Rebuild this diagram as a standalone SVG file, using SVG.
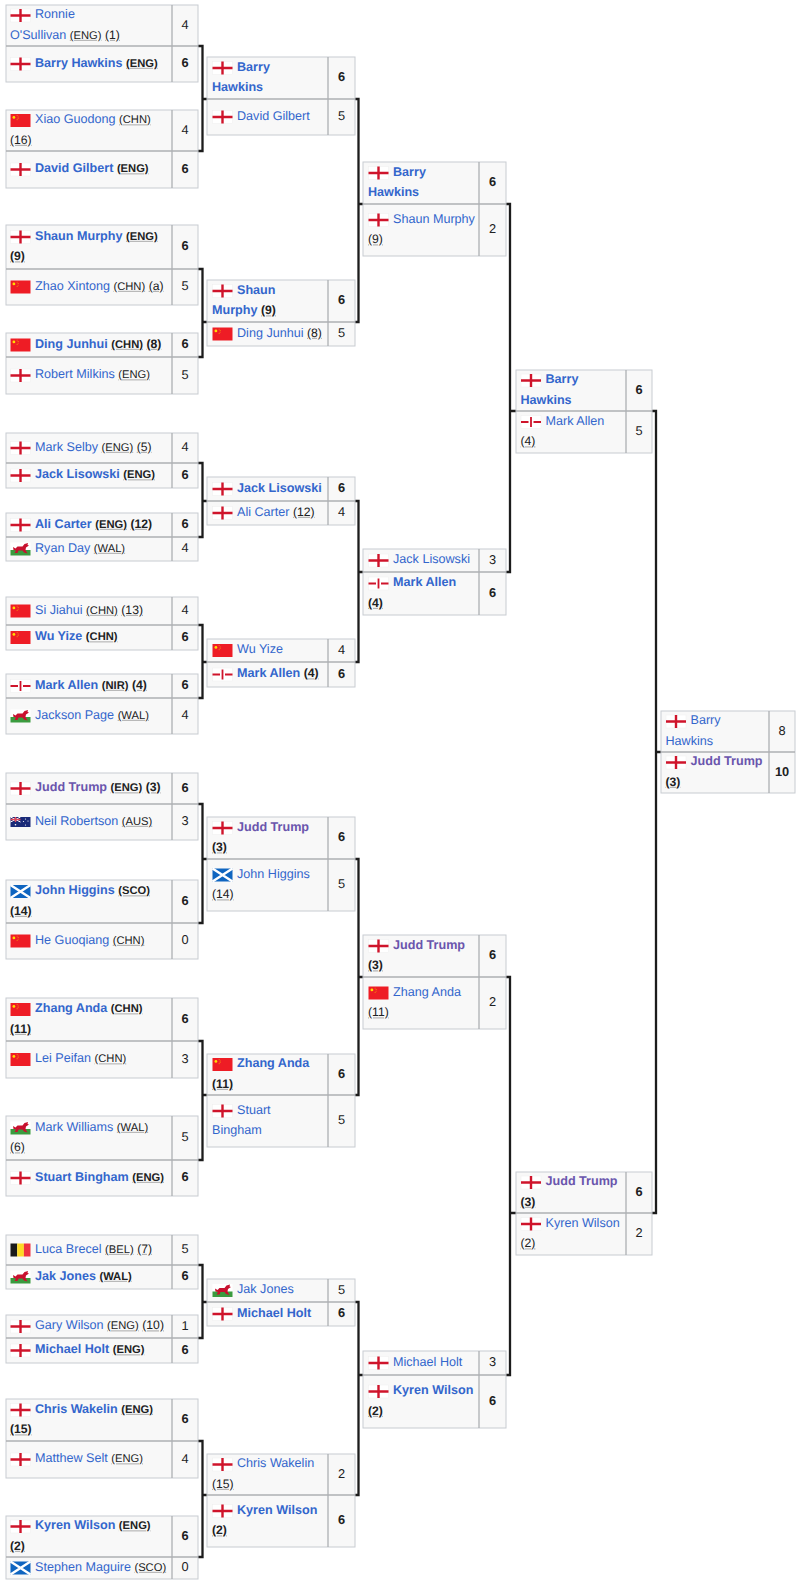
<svg xmlns="http://www.w3.org/2000/svg" width="800" height="1582" viewBox="0 0 800 1582">
<style>
text{font-family:"Liberation Sans",Arial,sans-serif;font-size:12.6px;fill:#202122;text-rendering:geometricPrecision;transform:translateY(-.7px)}
.b{fill:#f8f8f8;stroke:#c8ccd1;stroke-width:1}
.d{stroke:#adb0b3;stroke-width:1.3;fill:none}
.l{fill:#3366cc}
.p{fill:#6a55ad}
.w{font-weight:700}
.a,.s{fill:#b4b4b4;text-decoration:underline dotted}
.a{font-size:11.2px}
.s{font-size:12.2px}
.a>tspan,.s>tspan{fill:#202122}
.n{text-anchor:middle;font-size:12.8px}
.c{stroke:#1c1c1c;stroke-width:2.3;fill:none}
</style>
<defs>
<g id="eng"><rect width="20" height="13" fill="#fff" stroke="#eee" stroke-width=".5"/><path d="M0 6.500H20M10 0V13" stroke="#cf142b" stroke-width="2.400"/></g>
<g id="nir"><rect width="20" height="13" fill="#fff" stroke="#eee" stroke-width=".5"/><path d="M0 6.500H7.500M12.500 6.500H20" stroke="#cf142b" stroke-width="2"/><path d="M10 1.500V11.500" stroke="#cf142b" stroke-width="1.800"/></g>
<g id="chn"><rect width="20" height="13" fill="#ee1c25"/><circle cx="3.400" cy="3.400" r="1.400" fill="#ffde00"/><circle cx="6.600" cy="1.600" r=".45" fill="#ffde00"/><circle cx="7.600" cy="3" r=".45" fill="#ffde00"/><circle cx="7.600" cy="4.600" r=".45" fill="#ffde00"/><circle cx="6.600" cy="5.800" r=".45" fill="#ffde00"/></g>
<g id="wal"><rect width="20" height="7.500" fill="#fff"/><rect y="7.500" width="20" height="5.500" fill="#3a9b3f"/><path d="M2.500 4.500L5 6L7 4L12 4L14 1.500L17.500 .5L17 2.500L18.500 3L15.500 5L15 7.500L17 11L13.500 10L12 8L8 8L7 10.500L4 10.500L5.500 8L3 7.500Z" fill="#c8102e"/></g>
<g id="sco"><rect width="20" height="13" fill="#0f65c0"/><path d="M0 0L20 13M20 0L0 13" stroke="#fff" stroke-width="2.400"/></g>
<g id="bel"><rect width="6.700" height="13" fill="#1a1a1a"/><rect x="6.700" width="6.700" height="13" fill="#fdda24"/><rect x="13.400" width="6.600" height="13" fill="#ef3340"/></g>
<g id="aus"><rect width="20" height="10" fill="#1a2a78"/><path d="M0 0L10 5M10 0L0 5" stroke="#fff" stroke-width="1"/><path d="M5 0V5M0 2.500H10" stroke="#e0485a" stroke-width="1.400"/><circle cx="5" cy="7.800" r=".8" fill="#fff"/><circle cx="15" cy="2" r=".6" fill="#fff"/><circle cx="17.500" cy="4" r=".6" fill="#fff"/><circle cx="13" cy="4.500" r=".6" fill="#fff"/><circle cx="15" cy="8" r=".6" fill="#fff"/></g>
</defs>

<g id="connectors">
<path class="c" d="M198 46H202.500V151H198M202.500 99H207"/>
<path class="c" d="M198 269H202.500V357H198M202.500 322H207"/>
<path class="c" d="M198 463H202.500V537H198M202.500 501H207"/>
<path class="c" d="M198 625H202.500V698H198M202.500 662H207"/>
<path class="c" d="M198 804H202.500V923H198M202.500 859H207"/>
<path class="c" d="M198 1041H202.500V1160H198M202.500 1095H207"/>
<path class="c" d="M198 1265H202.500V1338H198M202.500 1302H207"/>
<path class="c" d="M198 1441H202.500V1557H198M202.500 1495H207"/>
<path class="c" d="M355 99H358.500V322H355M358.500 204H363"/>
<path class="c" d="M355 501H358.500V662H355M358.500 572H363"/>
<path class="c" d="M355 859H358.500V1095H355M358.500 977H363"/>
<path class="c" d="M355 1302H358.500V1495H355M358.500 1375H363"/>
<path class="c" d="M506 204H510V572H506M510 411H516"/>
<path class="c" d="M506 977H510V1375H506M510 1213H516"/>
<path class="c" d="M652 411H656V1213H652M656 752H661"/>
</g>

<g id="r1-1"><rect class="b" x="6" y="5" width="192" height="77"/><path class="d" d="M6 46H198M172 5V82"/>
<use href="#eng" x="10.500" y="9"/><text x="35" y="19"><tspan class="l">Ronnie</tspan></text><text x="10" y="39.500"><tspan class="l">O'Sullivan</tspan> <tspan class="a"><tspan>(ENG)</tspan></tspan> <tspan class="s"><tspan>(1)</tspan></tspan></text><text class="n" x="185" y="29.500">4</text>
<use href="#eng" x="10.500" y="57.500"/><text class="w" x="35" y="67.500"><tspan class="l">Barry Hawkins</tspan> <tspan class="a"><tspan>(ENG)</tspan></tspan></text><text class="n w" x="185" y="68">6</text></g>

<g id="r1-2"><rect class="b" x="6" y="110" width="192" height="78"/><path class="d" d="M6 151H198M172 110V188"/>
<use href="#chn" x="10.500" y="114"/><text x="35" y="124"><tspan class="l">Xiao Guodong</tspan> <tspan class="a"><tspan>(CHN)</tspan></tspan></text><text x="10" y="144.500"><tspan class="s"><tspan>(16)</tspan></tspan></text><text class="n" x="185" y="134.500">4</text>
<use href="#eng" x="10.500" y="163"/><text class="w" x="35" y="173"><tspan class="l">David Gilbert</tspan> <tspan class="a"><tspan>(ENG)</tspan></tspan></text><text class="n w" x="185" y="173.500">6</text></g>

<g id="r1-3"><rect class="b" x="6" y="225" width="192" height="80"/><path class="d" d="M6 269H198M172 225V305"/>
<use href="#eng" x="10.500" y="230.500"/><text class="w" x="35" y="240.500"><tspan class="l">Shaun Murphy</tspan> <tspan class="a"><tspan>(ENG)</tspan></tspan></text><text class="w" x="10" y="261"><tspan class="s"><tspan>(9)</tspan></tspan></text><text class="n w" x="185" y="251">6</text>
<use href="#chn" x="10.500" y="280.500"/><text x="35" y="290.500"><tspan class="l">Zhao Xintong</tspan> <tspan class="a"><tspan>(CHN)</tspan></tspan> <tspan class="s"><tspan>(a)</tspan></tspan></text><text class="n" x="185" y="291">5</text></g>

<g id="r1-4"><rect class="b" x="6" y="333" width="192" height="61"/><path class="d" d="M6 357H198M172 333V394"/>
<use href="#chn" x="10.500" y="338.500"/><text class="w" x="35" y="348.500"><tspan class="l">Ding Junhui</tspan> <tspan class="a"><tspan>(CHN)</tspan></tspan> <tspan class="s"><tspan>(8)</tspan></tspan></text><text class="n w" x="185" y="349">6</text>
<use href="#eng" x="10.500" y="369"/><text x="35" y="379"><tspan class="l">Robert Milkins</tspan> <tspan class="a"><tspan>(ENG)</tspan></tspan></text><text class="n" x="185" y="379.500">5</text></g>

<g id="r1-5"><rect class="b" x="6" y="433" width="192" height="55"/><path class="d" d="M6 463H198M172 433V488"/>
<use href="#eng" x="10.500" y="441.500"/><text x="35" y="451.500"><tspan class="l">Mark Selby</tspan> <tspan class="a"><tspan>(ENG)</tspan></tspan> <tspan class="s"><tspan>(5)</tspan></tspan></text><text class="n" x="185" y="452">4</text>
<use href="#eng" x="10.500" y="469"/><text class="w" x="35" y="479"><tspan class="l">Jack Lisowski</tspan> <tspan class="a"><tspan>(ENG)</tspan></tspan></text><text class="n w" x="185" y="479.500">6</text></g>

<g id="r1-6"><rect class="b" x="6" y="513" width="192" height="48"/><path class="d" d="M6 537H198M172 513V561"/>
<use href="#eng" x="10.500" y="518.500"/><text class="w" x="35" y="528.500"><tspan class="l">Ali Carter</tspan> <tspan class="a"><tspan>(ENG)</tspan></tspan> <tspan class="s"><tspan>(12)</tspan></tspan></text><text class="n w" x="185" y="529">6</text>
<use href="#wal" x="10.500" y="542.500"/><text x="35" y="552.500"><tspan class="l">Ryan Day</tspan> <tspan class="a"><tspan>(WAL)</tspan></tspan></text><text class="n" x="185" y="553">4</text></g>

<g id="r1-7"><rect class="b" x="6" y="597" width="192" height="53"/><path class="d" d="M6 625H198M172 597V650"/>
<use href="#chn" x="10.500" y="604.500"/><text x="35" y="614.500"><tspan class="l">Si Jiahui</tspan> <tspan class="a"><tspan>(CHN)</tspan></tspan> <tspan class="s"><tspan>(13)</tspan></tspan></text><text class="n" x="185" y="615">4</text>
<use href="#chn" x="10.500" y="631"/><text class="w" x="35" y="641"><tspan class="l">Wu Yize</tspan> <tspan class="a"><tspan>(CHN)</tspan></tspan></text><text class="n w" x="185" y="641.500">6</text></g>

<g id="r1-8"><rect class="b" x="6" y="674" width="192" height="60"/><path class="d" d="M6 698H198M172 674V734"/>
<use href="#nir" x="10.500" y="679.500"/><text class="w" x="35" y="689.500"><tspan class="l">Mark Allen</tspan> <tspan class="a"><tspan>(NIR)</tspan></tspan> <tspan class="s"><tspan>(4)</tspan></tspan></text><text class="n w" x="185" y="690">6</text>
<use href="#wal" x="10.500" y="709.500"/><text x="35" y="719.500"><tspan class="l">Jackson Page</tspan> <tspan class="a"><tspan>(WAL)</tspan></tspan></text><text class="n" x="185" y="720">4</text></g>

<g id="r1-9"><rect class="b" x="6" y="773" width="192" height="67"/><path class="d" d="M6 804H198M172 773V840"/>
<use href="#eng" x="10.500" y="782"/><text class="w" x="35" y="792"><tspan class="p">Judd Trump</tspan> <tspan class="a"><tspan>(ENG)</tspan></tspan> <tspan class="s"><tspan>(3)</tspan></tspan></text><text class="n w" x="185" y="792.500">6</text>
<use href="#aus" x="10.500" y="817"/><text x="35" y="825.500"><tspan class="l">Neil Robertson</tspan> <tspan class="a"><tspan>(AUS)</tspan></tspan></text><text class="n" x="185" y="826">3</text></g>

<g id="r1-10"><rect class="b" x="6" y="880" width="192" height="79"/><path class="d" d="M6 923H198M172 880V959"/>
<use href="#sco" x="10.500" y="885"/><text class="w" x="35" y="895"><tspan class="l">John Higgins</tspan> <tspan class="a"><tspan>(SCO)</tspan></tspan></text><text class="w" x="10" y="915.500"><tspan class="s"><tspan>(14)</tspan></tspan></text><text class="n w" x="185" y="905.500">6</text>
<use href="#chn" x="10.500" y="934.500"/><text x="35" y="944.500"><tspan class="l">He Guoqiang</tspan> <tspan class="a"><tspan>(CHN)</tspan></tspan></text><text class="n" x="185" y="945">0</text></g>

<g id="r1-11"><rect class="b" x="6" y="998" width="192" height="80"/><path class="d" d="M6 1041H198M172 998V1078"/>
<use href="#chn" x="10.500" y="1003"/><text class="w" x="35" y="1013"><tspan class="l">Zhang Anda</tspan> <tspan class="a"><tspan>(CHN)</tspan></tspan></text><text class="w" x="10" y="1033.500"><tspan class="s"><tspan>(11)</tspan></tspan></text><text class="n w" x="185" y="1023.500">6</text>
<use href="#chn" x="10.500" y="1053"/><text x="35" y="1063"><tspan class="l">Lei Peifan</tspan> <tspan class="a"><tspan>(CHN)</tspan></tspan></text><text class="n" x="185" y="1063.500">3</text></g>

<g id="r1-12"><rect class="b" x="6" y="1116" width="192" height="80"/><path class="d" d="M6 1160H198M172 1116V1196"/>
<use href="#wal" x="10.500" y="1121.500"/><text x="35" y="1131.500"><tspan class="l">Mark Williams</tspan> <tspan class="a"><tspan>(WAL)</tspan></tspan></text><text x="10" y="1152"><tspan class="s"><tspan>(6)</tspan></tspan></text><text class="n" x="185" y="1142">5</text>
<use href="#eng" x="10.500" y="1171.500"/><text class="w" x="35" y="1181.500"><tspan class="l">Stuart Bingham</tspan> <tspan class="a"><tspan>(ENG)</tspan></tspan></text><text class="n w" x="185" y="1182">6</text></g>

<g id="r1-13"><rect class="b" x="6" y="1235" width="192" height="54"/><path class="d" d="M6 1265H198M172 1235V1289"/>
<use href="#bel" x="10.500" y="1243.500"/><text x="35" y="1253.500"><tspan class="l">Luca Brecel</tspan> <tspan class="a"><tspan>(BEL)</tspan></tspan> <tspan class="s"><tspan>(7)</tspan></tspan></text><text class="n" x="185" y="1254">5</text>
<use href="#wal" x="10.500" y="1270.500"/><text class="w" x="35" y="1280.500"><tspan class="l">Jak Jones</tspan> <tspan class="a"><tspan>(WAL)</tspan></tspan></text><text class="n w" x="185" y="1281">6</text></g>

<g id="r1-14"><rect class="b" x="6" y="1315" width="192" height="48"/><path class="d" d="M6 1338H198M172 1315V1363"/>
<use href="#eng" x="10.500" y="1320"/><text x="35" y="1330"><tspan class="l">Gary Wilson</tspan> <tspan class="a"><tspan>(ENG)</tspan></tspan> <tspan class="s"><tspan>(10)</tspan></tspan></text><text class="n" x="185" y="1330.500">1</text>
<use href="#eng" x="10.500" y="1344"/><text class="w" x="35" y="1354"><tspan class="l">Michael Holt</tspan> <tspan class="a"><tspan>(ENG)</tspan></tspan></text><text class="n w" x="185" y="1354.500">6</text></g>

<g id="r1-15"><rect class="b" x="6" y="1399" width="192" height="79"/><path class="d" d="M6 1441H198M172 1399V1478"/>
<use href="#eng" x="10.500" y="1403.500"/><text class="w" x="35" y="1413.500"><tspan class="l">Chris Wakelin</tspan> <tspan class="a"><tspan>(ENG)</tspan></tspan></text><text class="w" x="10" y="1434"><tspan class="s"><tspan>(15)</tspan></tspan></text><text class="n w" x="185" y="1424">6</text>
<use href="#eng" x="10.500" y="1453"/><text x="35" y="1463"><tspan class="l">Matthew Selt</tspan> <tspan class="a"><tspan>(ENG)</tspan></tspan></text><text class="n" x="185" y="1463.500">4</text></g>

<g id="r1-16"><rect class="b" x="6" y="1516" width="192" height="63"/><path class="d" d="M6 1557H198M172 1516V1579"/>
<use href="#eng" x="10.500" y="1520"/><text class="w" x="35" y="1530"><tspan class="l">Kyren Wilson</tspan> <tspan class="a"><tspan>(ENG)</tspan></tspan></text><text class="w" x="10" y="1550.500"><tspan class="s"><tspan>(2)</tspan></tspan></text><text class="n w" x="185" y="1540.500">6</text>
<use href="#sco" x="10.500" y="1561.500"/><text x="35" y="1571.500"><tspan class="l">Stephen Maguire</tspan> <tspan class="a"><tspan>(SCO)</tspan></tspan></text><text class="n" x="185" y="1572">0</text></g>

<g id="r2-1"><rect class="b" x="207" y="57" width="148" height="78"/><path class="d" d="M207 99H355M328 57V135"/>
<use href="#eng" x="212.500" y="61.500"/><text class="w" x="237" y="71.500"><tspan class="l">Barry</tspan></text><text class="w" x="212" y="92"><tspan class="l">Hawkins</tspan></text><text class="n w" x="341.500" y="82">6</text>
<use href="#eng" x="212.500" y="110.500"/><text x="237" y="120.500"><tspan class="l">David Gilbert</tspan></text><text class="n" x="341.500" y="121">5</text></g>

<g id="r2-2"><rect class="b" x="207" y="280" width="148" height="66"/><path class="d" d="M207 322H355M328 280V346"/>
<use href="#eng" x="212.500" y="284.500"/><text class="w" x="237" y="294.500"><tspan class="l">Shaun</tspan></text><text class="w" x="212" y="315"><tspan class="l">Murphy</tspan> <tspan class="s"><tspan>(9)</tspan></tspan></text><text class="n w" x="341.500" y="305">6</text>
<use href="#chn" x="212.500" y="327.500"/><text x="237" y="337.500"><tspan class="l">Ding Junhui</tspan> <tspan class="s"><tspan>(8)</tspan></tspan></text><text class="n" x="341.500" y="338">5</text></g>

<g id="r2-3"><rect class="b" x="207" y="477" width="148" height="48"/><path class="d" d="M207 501H355M328 477V525"/>
<use href="#eng" x="212.500" y="482.500"/><text class="w" x="237" y="492.500"><tspan class="l">Jack Lisowski</tspan></text><text class="n w" x="341.500" y="493">6</text>
<use href="#eng" x="212.500" y="506.500"/><text x="237" y="516.500"><tspan class="l">Ali Carter</tspan> <tspan class="s"><tspan>(12)</tspan></tspan></text><text class="n" x="341.500" y="517">4</text></g>

<g id="r2-4"><rect class="b" x="207" y="639" width="148" height="48"/><path class="d" d="M207 662H355M328 639V687"/>
<use href="#chn" x="212.500" y="644"/><text x="237" y="654"><tspan class="l">Wu Yize</tspan></text><text class="n" x="341.500" y="654.500">4</text>
<use href="#nir" x="212.500" y="668"/><text class="w" x="237" y="678"><tspan class="l">Mark Allen</tspan> <tspan class="s"><tspan>(4)</tspan></tspan></text><text class="n w" x="341.500" y="678.500">6</text></g>

<g id="r2-5"><rect class="b" x="207" y="817" width="148" height="94"/><path class="d" d="M207 859H355M328 817V911"/>
<use href="#eng" x="212.500" y="821.500"/><text class="w" x="237" y="831.500"><tspan class="p">Judd Trump</tspan></text><text class="w" x="212" y="852"><tspan class="s"><tspan>(3)</tspan></tspan></text><text class="n w" x="341.500" y="842">6</text>
<use href="#sco" x="212.500" y="868.500"/><text x="237" y="878.500"><tspan class="l">John Higgins</tspan></text><text x="212" y="899"><tspan class="s"><tspan>(14)</tspan></tspan></text><text class="n" x="341.500" y="889">5</text></g>

<g id="r2-6"><rect class="b" x="207" y="1054" width="148" height="93"/><path class="d" d="M207 1095H355M328 1054V1147"/>
<use href="#chn" x="212.500" y="1058"/><text class="w" x="237" y="1068"><tspan class="l">Zhang Anda</tspan></text><text class="w" x="212" y="1088.500"><tspan class="s"><tspan>(11)</tspan></tspan></text><text class="n w" x="341.500" y="1078.500">6</text>
<use href="#eng" x="212.500" y="1104.500"/><text x="237" y="1114.500"><tspan class="l">Stuart</tspan></text><text x="212" y="1135"><tspan class="l">Bingham</tspan></text><text class="n" x="341.500" y="1125">5</text></g>

<g id="r2-7"><rect class="b" x="207" y="1279" width="148" height="47"/><path class="d" d="M207 1302H355M328 1279V1326"/>
<use href="#wal" x="212.500" y="1284"/><text x="237" y="1294"><tspan class="l">Jak Jones</tspan></text><text class="n" x="341.500" y="1294.500">5</text>
<use href="#eng" x="212.500" y="1307.500"/><text class="w" x="237" y="1317.500"><tspan class="l">Michael Holt</tspan></text><text class="n w" x="341.500" y="1318">6</text></g>

<g id="r2-8"><rect class="b" x="207" y="1454" width="148" height="93"/><path class="d" d="M207 1495H355M328 1454V1547"/>
<use href="#eng" x="212.500" y="1458"/><text x="237" y="1468"><tspan class="l">Chris Wakelin</tspan></text><text x="212" y="1488.500"><tspan class="s"><tspan>(15)</tspan></tspan></text><text class="n" x="341.500" y="1478.500">2</text>
<use href="#eng" x="212.500" y="1504.500"/><text class="w" x="237" y="1514.500"><tspan class="l">Kyren Wilson</tspan></text><text class="w" x="212" y="1535"><tspan class="s"><tspan>(2)</tspan></tspan></text><text class="n w" x="341.500" y="1525">6</text></g>

<g id="r3-1"><rect class="b" x="363" y="162" width="143" height="94"/><path class="d" d="M363 204H506M479 162V256"/>
<use href="#eng" x="368.500" y="166.500"/><text class="w" x="393" y="176.500"><tspan class="l">Barry</tspan></text><text class="w" x="368" y="197"><tspan class="l">Hawkins</tspan></text><text class="n w" x="492.500" y="187">6</text>
<use href="#eng" x="368.500" y="213.500"/><text x="393" y="223.500"><tspan class="l">Shaun Murphy</tspan></text><text x="368" y="244"><tspan class="s"><tspan>(9)</tspan></tspan></text><text class="n" x="492.500" y="234">2</text></g>

<g id="r3-2"><rect class="b" x="363" y="549" width="143" height="66"/><path class="d" d="M363 572H506M479 549V615"/>
<use href="#eng" x="368.500" y="554"/><text x="393" y="564"><tspan class="l">Jack Lisowski</tspan></text><text class="n" x="492.500" y="564.500">3</text>
<use href="#nir" x="368.500" y="577"/><text class="w" x="393" y="587"><tspan class="l">Mark Allen</tspan></text><text class="w" x="368" y="607.500"><tspan class="s"><tspan>(4)</tspan></tspan></text><text class="n w" x="492.500" y="597.500">6</text></g>

<g id="r3-3"><rect class="b" x="363" y="935" width="143" height="94"/><path class="d" d="M363 977H506M479 935V1029"/>
<use href="#eng" x="368.500" y="939.500"/><text class="w" x="393" y="949.500"><tspan class="p">Judd Trump</tspan></text><text class="w" x="368" y="970"><tspan class="s"><tspan>(3)</tspan></tspan></text><text class="n w" x="492.500" y="960">6</text>
<use href="#chn" x="368.500" y="986.500"/><text x="393" y="996.500"><tspan class="l">Zhang Anda</tspan></text><text x="368" y="1017"><tspan class="s"><tspan>(11)</tspan></tspan></text><text class="n" x="492.500" y="1007">2</text></g>

<g id="r3-4"><rect class="b" x="363" y="1351" width="143" height="77"/><path class="d" d="M363 1375H506M479 1351V1428"/>
<use href="#eng" x="368.500" y="1356.500"/><text x="393" y="1366.500"><tspan class="l">Michael Holt</tspan></text><text class="n" x="492.500" y="1367">3</text>
<use href="#eng" x="368.500" y="1385"/><text class="w" x="393" y="1395"><tspan class="l">Kyren Wilson</tspan></text><text class="w" x="368" y="1415.500"><tspan class="s"><tspan>(2)</tspan></tspan></text><text class="n w" x="492.500" y="1405.500">6</text></g>

<g id="r4-1"><rect class="b" x="516" y="370" width="136" height="83"/><path class="d" d="M516 411H652M626 370V453"/>
<use href="#eng" x="521" y="374"/><text class="w" x="545.500" y="384"><tspan class="l">Barry</tspan></text><text class="w" x="520.500" y="404.500"><tspan class="l">Hawkins</tspan></text><text class="n w" x="639" y="394.500">6</text>
<use href="#nir" x="521" y="415.500"/><text x="545.500" y="425.500"><tspan class="l">Mark Allen</tspan></text><text x="520.500" y="446"><tspan class="s"><tspan>(4)</tspan></tspan></text><text class="n" x="639" y="436">5</text></g>

<g id="r4-2"><rect class="b" x="516" y="1172" width="136" height="83"/><path class="d" d="M516 1213H652M626 1172V1255"/>
<use href="#eng" x="521" y="1176"/><text class="w" x="545.500" y="1186"><tspan class="p">Judd Trump</tspan></text><text class="w" x="520.500" y="1206.500"><tspan class="s"><tspan>(3)</tspan></tspan></text><text class="n w" x="639" y="1196.500">6</text>
<use href="#eng" x="521" y="1217.500"/><text x="545.500" y="1227.500"><tspan class="l">Kyren Wilson</tspan></text><text x="520.500" y="1248"><tspan class="s"><tspan>(2)</tspan></tspan></text><text class="n" x="639" y="1238">2</text></g>

<g id="final"><rect class="b" x="661" y="711" width="134" height="82"/><path class="d" d="M661 752H795M769 711V793"/>
<use href="#eng" x="666" y="715"/><text x="690.500" y="725"><tspan class="l">Barry</tspan></text><text x="665.500" y="745.500"><tspan class="l">Hawkins</tspan></text><text class="n" x="782" y="735.500">8</text>
<use href="#eng" x="666" y="756"/><text class="w" x="690.500" y="766"><tspan class="p">Judd Trump</tspan></text><text class="w" x="665.500" y="786.500"><tspan class="s"><tspan>(3)</tspan></tspan></text><text class="n w" x="782" y="776.500">10</text></g>
</svg>
